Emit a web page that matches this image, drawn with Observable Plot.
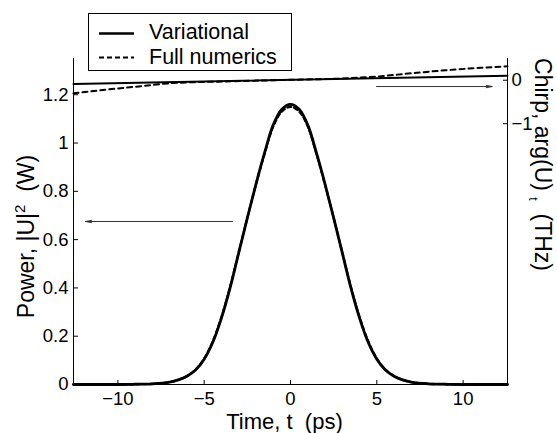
<!DOCTYPE html>
<html><head><meta charset="utf-8">
<script src="https://cdn.jsdelivr.net/npm/d3@7"></script>
<script src="https://cdn.jsdelivr.net/npm/@observablehq/plot@0.6"></script>
<style>
body{margin:0;background:#fff;font-family:"Liberation Sans",Arial,Helvetica,sans-serif;}
#wrap{position:relative;width:557px;height:433px;overflow:hidden;}
#legend{position:absolute;left:88px;top:13px;width:204px;height:58px;border:1px solid #000;background:#fff;box-sizing:border-box;}
#legend svg{position:absolute;left:0;top:0;}
</style></head><body><div id="wrap"></div>
<script>
// ---- data ----
const timeDomain = [-12.57, 12.57];        // ps
const powerDomain = [0, 1.35];             // W
const chirpDomain = [-7, 0.5];             // THz (right axis)
const timeTicks = [-10, -5, 0, 5, 10];
const powerTicks = [0, 0.2, 0.4, 0.6, 0.8, 1, 1.2];
const powerTickLabels = ["0", "0.2", "0.4", "0.6", "0.8", "1", "1.2"];
const chirpTicks = [0, -1];
const chirpTickLabels = ["0", "\u22121"];

const timePs = [-12.57, -11, -10, -9, -8, -7, -6.5, -6, -5.5, -5, -4.5, -4, -3.5, -3, -2.5, -2, -1.5, -1, -0.5, 0,
                 0.5, 1, 1.5, 2, 2.5, 3, 3.5, 4, 4.5, 5, 5.5, 6, 6.5, 7, 8, 9, 10, 11, 12.57];
const powerVariational = [0, 0, 0, 0.001, 0.003, 0.010, 0.019, 0.034, 0.060, 0.105, 0.175, 0.275, 0.400, 0.545, 0.690, 0.830, 0.960, 1.075, 1.140, 1.160,
                 1.140, 1.075, 0.960, 0.830, 0.690, 0.545, 0.400, 0.275, 0.175, 0.105, 0.060, 0.034, 0.019, 0.010, 0.003, 0.001, 0, 0, 0];
const powerNumerics = [0, 0, 0, 0.001, 0.003, 0.010, 0.019, 0.035, 0.062, 0.108, 0.180, 0.280, 0.404, 0.547, 0.690, 0.828, 0.955, 1.068, 1.130, 1.150,
                 1.130, 1.068, 0.955, 0.828, 0.690, 0.547, 0.404, 0.280, 0.180, 0.108, 0.062, 0.035, 0.019, 0.010, 0.003, 0.001, 0, 0, 0];

const chirpVarTime = [-12.57, 12.57];
const chirpVariational = [-0.085, 0.105];
const chirpNumTime = [-12.57, -10.5, -8.5, -7, -5.5, -4, 0, 3, 5, 7, 9, 11, 12.57];
const chirpNumerics = [-0.30, -0.21, -0.13, -0.07, -0.045, -0.03, 0.01, 0.04, 0.085, 0.16, 0.23, 0.285, 0.32];

const powerArrowTime = [-3.36, -11.87];
const powerArrowLevel = 0.675;
const chirpArrowTime = [4.98, 11.68];
const chirpArrowLevel = -0.145;

const seriesNames = ["Variational", "Full numerics"];

// ---- helpers: map chirp values onto the shared y scale ----
const toY = c => (c - chirpDomain[0]) / (chirpDomain[1] - chirpDomain[0]) * (powerDomain[1] - powerDomain[0]) + powerDomain[0];

const powerVarData = timePs.map((t, i) => ({t, p: powerVariational[i]}));
const powerNumData = timePs.map((t, i) => ({t, p: powerNumerics[i]}));
const chirpVarData = chirpVarTime.map((t, i) => ({t, y: toY(chirpVariational[i])}));
const chirpNumData = chirpNumTime.map((t, i) => ({t, y: toY(chirpNumerics[i])}));
const chirpTickY = chirpTicks.map(toY);

const chart = Plot.plot({
  width: 557, height: 433,
  marginLeft: 73, marginRight: 50, marginTop: 58, marginBottom: 49,
  style: {fontFamily: '"Liberation Sans", Arial, Helvetica, sans-serif', fontSize: "18.5px", background: "#fff", color: "#000"},
  x: {domain: timeDomain},
  y: {domain: powerDomain},
  marks: [
    Plot.ruleY([powerDomain[0]], {stroke: "#000", strokeWidth: 1}),
    Plot.ruleX([timeDomain[0]], {stroke: "#000", strokeWidth: 1}),
    Plot.ruleX([timeDomain[1]], {stroke: "#000", strokeWidth: 1}),
    Plot.axisX({ticks: timeTicks, anchor: "bottom", tickSize: -4, tickPadding: 11, label: null, fontSize: 18.5}),
    Plot.axisY({ticks: powerTicks, anchor: "left", tickSize: -5, tickPadding: 10, label: null, fontSize: 18.5,
                tickFormat: d => powerTickLabels[powerTicks.findIndex(v => Math.abs(v - d) < 1e-9)]}),
    Plot.axisY({ticks: chirpTickY, anchor: "right", tickSize: -5, tickPadding: 9, label: null, fontSize: 18.5,
                tickFormat: d => chirpTickLabels[chirpTickY.findIndex(v => Math.abs(v - d) < 1e-9)]}),
    Plot.line(chirpVarData, {x: "t", y: "y", stroke: "#000", strokeWidth: 2}),
    Plot.line(chirpNumData, {x: "t", y: "y", stroke: "#000", strokeWidth: 2, strokeDasharray: "5,4", curve: "monotone-x"}),
    Plot.line(powerVarData, {x: "t", y: "p", stroke: "#000", strokeWidth: 2.8, curve: "catmull-rom"}),
    Plot.line(powerNumData, {x: "t", y: "p", stroke: "#000", strokeWidth: 2.2, strokeDasharray: "4,3", curve: "catmull-rom"}),
    Plot.arrow([0], {x1: () => powerArrowTime[0], x2: () => powerArrowTime[1], y1: () => powerArrowLevel, y2: () => powerArrowLevel,
                     stroke: "#333", strokeWidth: 1, headLength: 9, headAngle: 22}),
    Plot.arrow([0], {x1: () => chirpArrowTime[0], x2: () => chirpArrowTime[1], y1: () => toY(chirpArrowLevel), y2: () => toY(chirpArrowLevel),
                     stroke: "#333", strokeWidth: 1, headLength: 9, headAngle: 22}),
    Plot.text(["Time, t\u00a0\u00a0(ps)"], {frameAnchor: "bottom", textAnchor: "middle", lineAnchor: "middle", dx: -6, dy: 37, fontSize: 22}),
    Plot.text(["POWERLABEL"], {frameAnchor: "left", textAnchor: "middle", lineAnchor: "middle", dx: -47, dy: 15, rotate: -90, fontSize: 23}),
    Plot.text(["CHIRPLABEL"], {frameAnchor: "right", textAnchor: "middle", lineAnchor: "middle", dx: 35, dy: -57, rotate: 90, fontSize: 23})
  ]
});

// rich axis labels (superscript / subscript)
const NS = "http://www.w3.org/2000/svg";
function rich(el, parts) {
  el.textContent = "";
  for (const p of parts) {
    const ts = document.createElementNS(NS, "tspan");
    ts.textContent = p.text;
    if (p.size) ts.setAttribute("font-size", p.size);
    if (p.dy) ts.setAttribute("dy", p.dy);
    el.appendChild(ts);
  }
}
chart.querySelectorAll("text").forEach(el => {
  if (el.textContent === "POWERLABEL") {
    rich(el, [{text: "Power, |U|"}, {text: "2", size: 15, dy: -9}, {text: "\u00a0\u00a0(W)", dy: 9}]);
  } else if (el.textContent === "CHIRPLABEL") {
    rich(el, [{text: "Chirp, arg(U)\u00a0"}, {text: "t", size: 12, dy: 6}, {text: "\u00a0\u00a0(THz)", dy: -6}]);
  }
});

const wrap = document.getElementById("wrap");
wrap.appendChild(chart);

// legend (HTML overlay)
const legend = document.createElement("div");
legend.id = "legend";
legend.innerHTML = `<svg width="204" height="58" font-family='"Liberation Sans", Arial, sans-serif' font-size="21.5">
  <line x1="10" x2="45" y1="19.5" y2="19.5" stroke="#000" stroke-width="2.5"/>
  <text x="60" y="17" dy="0.35em">${seriesNames[0]}</text>
  <line x1="10" x2="45" y1="43.5" y2="43.5" stroke="#000" stroke-width="2.2" stroke-dasharray="5,3"/>
  <text x="60" y="42" dy="0.35em">${seriesNames[1]}</text>
</svg>`;
wrap.appendChild(legend);
</script>
</body></html>
